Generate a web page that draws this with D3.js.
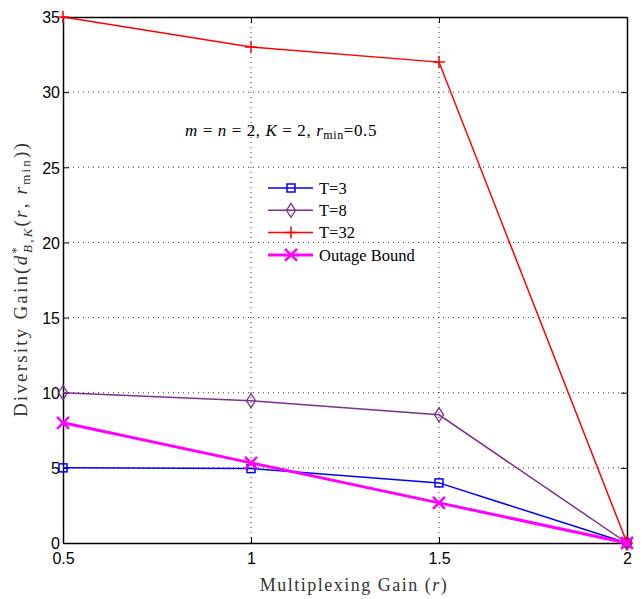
<!DOCTYPE html>
<html>
<head>
<meta charset="utf-8">
<script src="https://cdn.jsdelivr.net/npm/d3@7"></script>
<style>
  body { margin: 0; background: #fff; }
  svg { display: block; }
  .tick text { font-family: "Liberation Sans", Arial, sans-serif; font-size: 16px; fill: #000; }
  .serif { font-family: "Liberation Serif", "Times New Roman", serif; }
</style>
</head>
<body>
<script>
// Multiplexing gain values on the x axis
const rValues = [0.5, 1, 1.5, 2];
// Diversity gain per configuration
const seriesT3 = [5, 4.95, 4, 0];
const seriesT8 = [10, 9.47, 8.53, 0];
const seriesT32 = [35, 33, 32, 0];
const seriesOutage = [8, 5.33, 2.67, 0];
const seriesNames = ["T=3", "T=8", "T=32", "Outage Bound"];
const xTicks = [0.5, 1, 1.5, 2];
const yTicks = [0, 5, 10, 15, 20, 25, 30, 35];

const W = 644, H = 599;
const m = { left: 63, right: 17, top: 17, bottom: 56 };
const iw = W - m.left - m.right, ih = H - m.top - m.bottom;

const svg = d3.select("body").append("svg").attr("width", W).attr("height", H);
const g = svg.append("g").attr("transform", `translate(${m.left},${m.top})`);

const x = d3.scaleLinear().domain([0.5, 2]).range([0, iw]);
const y = d3.scaleLinear().domain([0, 35]).range([ih, 0]);

// dotted grid
g.append("g").selectAll("line").data(xTicks.slice(1, -1)).join("line")
  .attr("x1", d => x(d)).attr("x2", d => x(d)).attr("y1", 0).attr("y2", ih)
  .attr("stroke", "#000").attr("stroke-width", 0.8).attr("stroke-dasharray", "1,4");
g.append("g").selectAll("line").data(yTicks.slice(1, -1)).join("line")
  .attr("y1", d => y(d)).attr("y2", d => y(d)).attr("x1", 0).attr("x2", iw)
  .attr("stroke", "#000").attr("stroke-width", 0.8).attr("stroke-dasharray", "1,4");

// axes with inward ticks on all four sides
const xAxis = g.append("g").attr("transform", `translate(0,${ih})`)
  .call(d3.axisBottom(x).tickValues(xTicks).tickFormat(d3.format("")).tickSizeInner(-6).tickSizeOuter(0).tickPadding(10));
const yAxis = g.append("g")
  .call(d3.axisLeft(y).tickValues(yTicks).tickSizeInner(-6).tickSizeOuter(0).tickPadding(3));
g.append("g").call(d3.axisTop(x).tickValues(xTicks).tickFormat("").tickSizeInner(-6).tickSizeOuter(0));
g.append("g").attr("transform", `translate(${iw},0)`)
  .call(d3.axisRight(y).tickValues(yTicks).tickFormat("").tickSizeInner(-6).tickSizeOuter(0));
g.selectAll(".domain").attr("stroke", "#000").attr("stroke-width", 1.5);
g.selectAll(".tick line").attr("stroke", "#000");
yAxis.selectAll(".tick text").attr("dy", "0.36em");

// marker shapes
const markers = {
  square: (s, c) => s.append("rect").attr("x", -4).attr("y", -4).attr("width", 8).attr("height", 8)
    .attr("fill", "none").attr("stroke", c).attr("stroke-width", 1.5),
  diamond: (s, c) => s.append("path").attr("d", "M0,-7L4.5,0L0,7L-4.5,0Z")
    .attr("fill", "none").attr("stroke", c).attr("stroke-width", 1.3),
  plus: (s, c) => s.append("path").attr("d", "M-6,0H6M0,-6V6")
    .attr("fill", "none").attr("stroke", c).attr("stroke-width", 1.5),
  cross: (s, c) => s.append("path").attr("d", "M-6,-6L6,6M-6,6L6,-6")
    .attr("fill", "none").attr("stroke", c).attr("stroke-width", 2.5)
};

const series = [
  { name: seriesNames[0], values: seriesT3, color: "#0000ff", width: 1.5, marker: "square" },
  { name: seriesNames[1], values: seriesT8, color: "#7e2f8e", width: 1.5, marker: "diamond" },
  { name: seriesNames[2], values: seriesT32, color: "#ff0000", width: 1.5, marker: "plus" },
  { name: seriesNames[3], values: seriesOutage, color: "#ff00ff", width: 3, marker: "cross" }
];

const line = d3.line().x(d => x(d[0])).y(d => y(d[1]));
series.forEach(s => {
  const pts = rValues.map((r, i) => [r, s.values[i]]);
  g.append("path").datum(pts).attr("d", line)
    .attr("fill", "none").attr("stroke", s.color).attr("stroke-width", s.width);
  pts.forEach(p => {
    const mk = g.append("g").attr("transform", `translate(${x(p[0])},${y(p[1])})`);
    markers[s.marker](mk, s.color);
  });
});

// legend
const lg = svg.append("g").attr("transform", "translate(268,188)");
series.forEach((s, i) => {
  const row = lg.append("g").attr("transform", `translate(0,${i * 22.3})`);
  row.append("line").attr("x1", 0).attr("x2", 45).attr("stroke", s.color).attr("stroke-width", s.width);
  markers[s.marker](row.append("g").attr("transform", "translate(23,0)"), s.color);
  row.append("text").attr("class", "serif").attr("x", 51).attr("y", 0).attr("dy", "0.35em")
    .attr("font-size", 16.5).text(s.name);
});

// parameter annotation
const ann = svg.append("text").attr("class", "serif").attr("x", 281).attr("y", 136)
  .attr("text-anchor", "middle").attr("font-size", 17).attr("letter-spacing", 0.6);
ann.append("tspan").attr("font-style", "italic").text("m");
ann.append("tspan").text(" = ");
ann.append("tspan").attr("font-style", "italic").text("n");
ann.append("tspan").text(" = 2, ");
ann.append("tspan").attr("font-style", "italic").text("K");
ann.append("tspan").text(" = 2, ");
ann.append("tspan").attr("font-style", "italic").text("r");
ann.append("tspan").attr("font-size", 12).attr("dy", 3).text("min");
ann.append("tspan").attr("dy", -3).text("=0.5");

// x axis label
const xl = svg.append("text").attr("class", "serif").attr("x", 354).attr("y", 591)
  .attr("text-anchor", "middle").attr("font-size", 18).attr("fill", "#333")
  .attr("letter-spacing", 1.5);
xl.append("tspan").text("Multiplexing Gain (");
xl.append("tspan").attr("font-style", "italic").text("r");
xl.append("tspan").text(")");

// y axis label
const yl = svg.append("text").attr("class", "serif")
  .attr("transform", "translate(27,279) rotate(-90)")
  .attr("text-anchor", "middle").attr("font-size", 19).attr("fill", "#333")
  .attr("letter-spacing", 2.2);
yl.append("tspan").text("Diversity Gain(");
yl.append("tspan").attr("font-style", "italic").text("d");
yl.append("tspan").attr("font-size", 13).attr("dy", -7).text("*");
yl.append("tspan").attr("font-size", 13).attr("font-style", "italic").attr("dx", -8).attr("dy", 12).text("B,K");
yl.append("tspan").attr("dy", -5).text("(");
yl.append("tspan").attr("font-style", "italic").text("r");
yl.append("tspan").text(", ");
yl.append("tspan").attr("font-style", "italic").text("r");
yl.append("tspan").attr("font-size", 13).attr("dy", 3).text("min");
yl.append("tspan").attr("dy", -3).text("))");
</script>
</body>
</html>
